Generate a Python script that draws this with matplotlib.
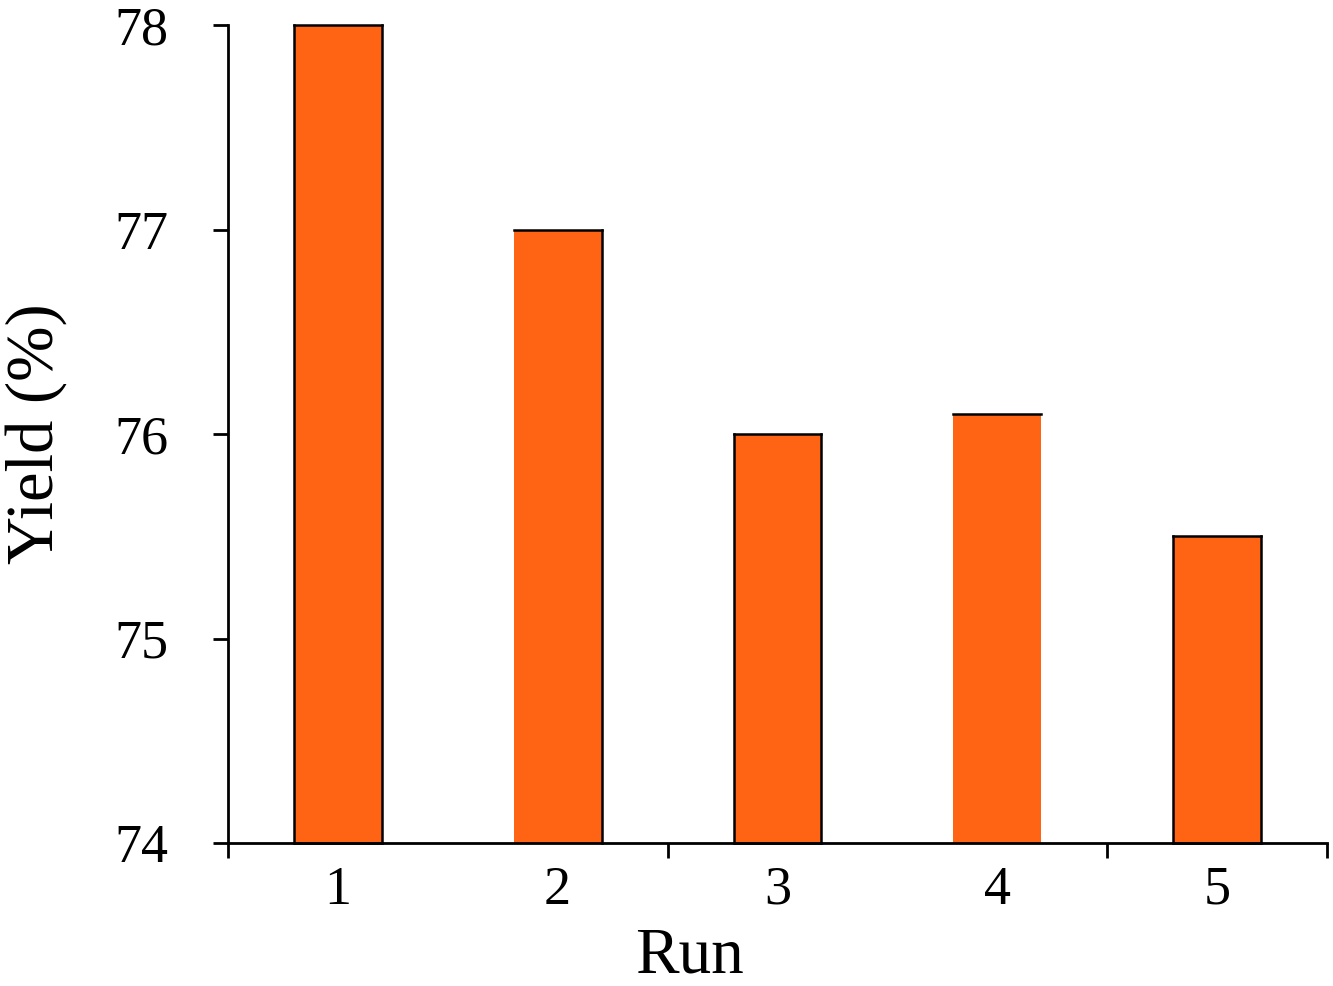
import matplotlib
matplotlib.use("Agg")
import matplotlib.pyplot as plt

# data
runs = [1, 2, 3, 4, 5]
run_labels = ["1", "2", "3", "4", "5"]
yield_pct = [78.0, 77.0, 76.0, 76.1, 75.5]
y_ticks = [74, 75, 76, 77, 78]

# which outline sides each bar shows in the original (t=top, r=right, b=bottom, l=left)
outline_sides = ["tlrb", "tr", "tlrb", "t", "tlrb"]

plt.rcParams['font.family'] = ['Liberation Serif', 'DejaVu Serif']

fig = plt.figure(figsize=(13.33, 9.86), dpi=100)
ax = fig.add_axes([0.171, 0.145, 0.8245, 0.8296])

ax.set_xlim(0.5, 5.5)
ax.set_ylim(74, 78)

bars = ax.bar(runs, yield_pct, width=0.4, color='#FF6414',
              edgecolor='none', zorder=2)

# draw outlines side by side
y0 = ax.get_ylim()[0]
for rect, sides in zip(bars, outline_sides):
    x0, w = rect.get_x(), rect.get_width()
    y1 = rect.get_height()
    segs = {
        't': ([x0, x0 + w], [y1, y1]),
        'b': ([x0, x0 + w], [y0, y0]),
        'l': ([x0, x0], [y0, y1]),
        'r': ([x0 + w, x0 + w], [y0, y1]),
    }
    for s in sides:
        xs, ys = segs[s]
        ax.plot(xs, ys, color='black', lw=1.8, solid_capstyle='projecting',
                zorder=3, clip_on=False)

ax.set_yticks(y_ticks)
ax.set_yticklabels([str(t) for t in y_ticks])
ax.set_xticks(runs)
ax.set_xticklabels(run_labels)
ax.set_xticks([0.5, 2.5, 4.5, 5.5], minor=True)

ax.spines['top'].set_visible(False)
ax.spines['right'].set_visible(False)
for sp in ['left', 'bottom']:
    ax.spines[sp].set_linewidth(2.0)

ax.tick_params(axis='y', which='major', direction='out', length=11, width=2.0,
               labelsize=39, pad=32)
ax.tick_params(axis='x', which='major', length=0, labelsize=39, pad=16)
ax.tick_params(axis='x', which='minor', direction='out', length=11, width=2.0)

ax.set_xlabel('Run', fontsize=47, labelpad=0)
ax.xaxis.set_label_coords(0.42, -0.103, transform=ax.transAxes)
ax.xaxis.label.set_va('top')
ax.set_ylabel('Yield (%)', fontsize=48, labelpad=34)

fig.savefig('out.png', dpi=100)
